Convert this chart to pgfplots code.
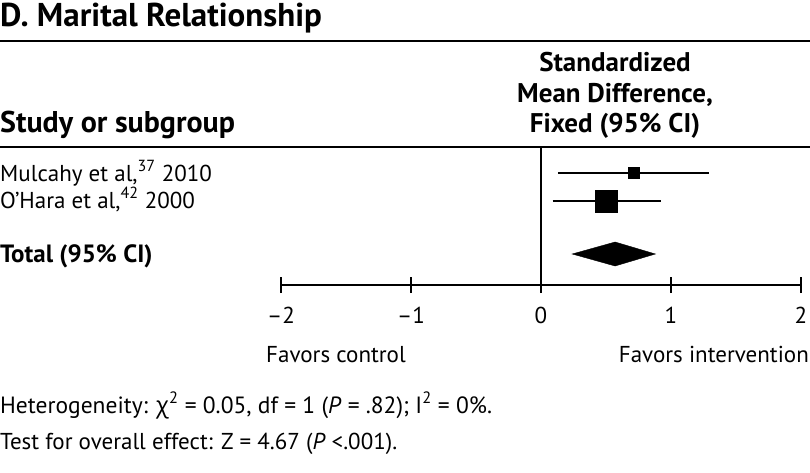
\documentclass[border=0pt]{standalone}
\usepackage{pgfplots}
\pgfplotsset{compat=1.18}
\usepackage{fontspec}
\setmainfont{PT Sans}
\newfontfamily\grk{Open Sans}
\begin{document}
\begin{tikzpicture}[x=1pt,y=1pt]
\useasboundingbox (0,0) rectangle (810,-473);
% header
\node[anchor=base west, inner sep=0pt, font=\fontsize{33}{36}\selectfont\bfseries] at (0,-27) {D. Marital Relationship};
\draw[line width=2pt] (0,-41) -- (810,-41);
\draw[line width=2pt] (0,-147) -- (810,-147);
\node[anchor=base west, inner sep=0pt, font=\fontsize{30}{33}\selectfont\bfseries] at (0,-133) {Study or subgroup};
\node[anchor=base, inner sep=0pt, font=\fontsize{27}{31}\selectfont\bfseries] at (615,-72) {Standardized};
\node[anchor=base, inner sep=0pt, font=\fontsize{27}{31}\selectfont\bfseries] at (615,-103) {Mean Difference,};
\node[anchor=base, inner sep=0pt, font=\fontsize{27}{31}\selectfont\bfseries] at (615,-133) {Fixed (95\% CI)};
% study labels
\node[anchor=base west, inner sep=0pt, font=\fontsize{23}{27}\selectfont] at (0,-181) {Mulcahy et al,\textsuperscript{37} 2010};
\node[anchor=base west, inner sep=0pt, font=\fontsize{23}{27}\selectfont] at (0,-208) {O'Hara et al,\textsuperscript{42} 2000};
\node[anchor=base west, inner sep=0pt, font=\fontsize{25}{29}\selectfont\bfseries] at (0,-262) {Total (95\% CI)};
% favors
\node[anchor=base west, inner sep=0pt, font=\fontsize{23}{27}\selectfont] at (266,-362) {Favors control};
\node[anchor=base east, inner sep=0pt, font=\fontsize{23}{27}\selectfont] at (809,-362) {Favors intervention};
% footnotes
\node[anchor=base west, inner sep=0pt, font=\fontsize{23.5}{27}\selectfont] at (0,-413) {Heterogeneity: {\grk χ}\textsuperscript{2} = 0.05, df = 1 (\textit{P} = .82); I\textsuperscript{2} = 0\%.};
\node[anchor=base west, inner sep=0pt, font=\fontsize{23}{27}\selectfont] at (0,-449) {Test for overall effect: Z = 4.67 (\textit{P} {<}.001).};
\begin{axis}[
  at={(281pt,-285pt)}, anchor=south west,
  scale only axis, width=520pt, height=138pt,
  xmin=-2, xmax=2, ymin=-285, ymax=-147,
  axis x line*=bottom, axis y line=none,
  axis line style={line width=2.5pt, black},
  xtick={-2,-1,0,1,2}, xticklabels={–2,–1,0,1,2},
  major tick length=16pt, tick align=center,
  tick style={line width=2pt, black},
  xticklabel style={font=\fontsize{23}{27}\selectfont, anchor=base, yshift=-30pt},
  /pgf/number format/assume math mode=true,
  clip=false,
]
% line of no effect
\addplot[black, line width=1.2pt] coordinates {(0,-147) (0,-285)};
% confidence intervals
\addplot[black, line width=2.5pt] coordinates {(0.13,-173) (1.29,-173)};
\addplot[black, line width=2.5pt] coordinates {(0.09,-201) (0.92,-201)};
% point estimates
\addplot[black, only marks, mark=square*, mark size=5.5pt] coordinates {(0.71,-173)};
\addplot[black, only marks, mark=square*, mark size=11pt] coordinates {(0.50,-201)};
% pooled diamond
\addplot[black, fill=black] coordinates {(0.24,-254) (0.57,-242) (0.88,-254) (0.57,-266)} -- cycle;
\end{axis}
\end{tikzpicture}
\end{document}
